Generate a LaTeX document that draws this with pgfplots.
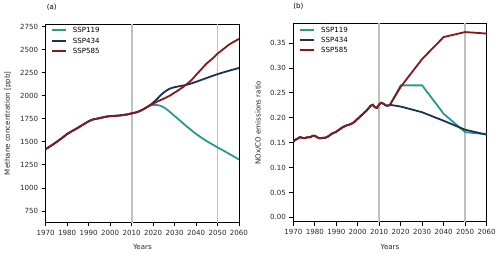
\documentclass[border=0pt]{standalone}
\usepackage{fontspec}
\setmainfont{DejaVu Sans}
\usepackage{pgfplots}
\pgfplotsset{compat=1.18}
\definecolor{cteal}{RGB}{38,156,137}
\definecolor{cnavy}{RGB}{29,49,82}
\definecolor{cred}{RGB}{139,21,28}
\definecolor{cgray}{RGB}{192,192,192}
\newcommand{\fs}{\fontsize{7.1}{8}\selectfont}
\begin{document}
\begin{tikzpicture}
\path (0,0) rectangle (500bp,251bp);
\pgfplotsset{every axis/.append style={
  scale only axis, width=193.3bp, height=198.3bp,
  xmin=1970, xmax=2060, xtick={1970,1980,...,2060},
  xtick pos=bottom, ytick pos=left,
  tick align=outside, major tick length=4bp,
  tick style={black, line width=0.8bp},
  axis line style={line width=0.8bp},
  /pgf/number format/assume math mode=true,
  /pgf/number format/1000 sep={},
  tick label style={font=\fs, text=black!85},
  label style={font=\fs, text=black!85},
  title style={font=\fs, text=black},
  xlabel={Years},
  xlabel style={at={(axis description cs:0.5,-0.1245)}, anchor=center},
  legend style={draw=none, fill=none, inner sep=0pt, outer sep=0pt,
     font=\fs, column sep=6bp, row sep=5.2bp,
     nodes={inner sep=0pt, text height=5.1bp, text depth=0bp}},
  legend cell align=left,
  legend image code/.code={\draw[#1] (0bp,0bp) -- (14bp,0bp);},
}}
% ---------------- (a) methane
\begin{axis}[at={(45.7bp,32.7bp)}, anchor=south west,
  ymin=625, ymax=2775, ytick={750,1000,...,2750},
  ylabel={Methane concentration [ppb]},
  ylabel style={at={(axis description cs:-0.195,0.5)}, anchor=center},
  title={(a)}, title style={at={(axis description cs:-0.012,1.045)}, anchor=base west},
  legend style={at={(axis description cs:0.0274,0.982)}, anchor=north west}]
\addplot[cgray, line width=1.8bp, forget plot] coordinates {(2010,600) (2010,2800)};
\addplot[cgray, line width=1.8bp, forget plot] coordinates {(2050,600) (2050,2800)};
\addplot[cteal, line width=1.8bp, smooth, tension=0.5] coordinates {
(1970,1420)(1973,1465)(1975,1497)(1978,1548)(1980,1585)(1983,1625)(1985,1652)(1988,1695)(1990,1722)(1992,1742)(1995,1756)(1998,1772)(2000,1778)(2003,1782)(2005,1787)(2008,1797)(2010,1808)(2012,1818)(2014,1835)(2016,1860)(2018,1888)
(2020,1900)(2022,1898)(2024,1885)(2026,1858)(2028,1820)(2030,1780)(2032,1740)(2035,1680)(2038,1622)(2040,1585)(2045,1507)(2050,1440)(2055,1375)(2060,1308)};
\addlegendentry{SSP119}
\addplot[cnavy, line width=1.8bp, smooth, tension=0.5] coordinates {
(1970,1420)(1973,1465)(1975,1497)(1978,1548)(1980,1585)(1983,1625)(1985,1652)(1988,1695)(1990,1722)(1992,1742)(1995,1756)(1998,1772)(2000,1778)(2003,1782)(2005,1787)(2008,1797)(2010,1808)(2012,1818)(2014,1835)(2016,1860)(2018,1888)
(2020,1925)(2022,1968)(2024,2015)(2026,2052)(2028,2078)(2030,2092)(2033,2106)(2036,2120)(2040,2150)(2045,2192)(2050,2233)(2055,2268)(2060,2300)};
\addlegendentry{SSP434}
\addplot[cred, line width=1.8bp, smooth, tension=0.5] coordinates {
(1970,1420)(1973,1465)(1975,1497)(1978,1548)(1980,1585)(1983,1625)(1985,1652)(1988,1695)(1990,1722)(1992,1742)(1995,1756)(1998,1772)(2000,1778)(2003,1782)(2005,1787)(2008,1797)(2010,1808)(2012,1818)(2014,1835)(2016,1860)(2018,1888)
(2020,1912)(2022,1937)(2025,1968)(2028,2003)(2030,2033)(2033,2078)(2035,2112)(2038,2172)(2040,2225)(2043,2300)(2045,2350)(2048,2410)(2050,2455)(2053,2510)(2055,2548)(2058,2590)(2060,2615)};
\addlegendentry{SSP585}
\end{axis}
% ---------------- (b) NOx/CO
\begin{axis}[at={(293.3bp,33.3bp)}, anchor=south west,
  ymin=-0.009, ymax=0.389, ytick={0,0.05,...,0.36},
  yticklabel style={/pgf/number format/.cd, fixed, fixed zerofill, precision=2},
  scaled y ticks=false,
  ylabel={NOx/CO emissions ratio},
  ylabel style={at={(axis description cs:-0.181,0.5)}, anchor=center},
  title={(b)}, title style={at={(axis description cs:-0.018,1.045)}, anchor=base west},
  legend style={at={(axis description cs:0.031,0.982)}, anchor=north west}]
\addplot[cgray, line width=1.8bp, forget plot] coordinates {(2010,-0.05) (2010,0.5)};
\addplot[cgray, line width=1.8bp, forget plot] coordinates {(2050,-0.05) (2050,0.5)};
\addplot[cteal, line width=1.8bp] coordinates {
(1970,0.152)(1971,0.156)(1972,0.158)(1973,0.161)(1974,0.160)(1975,0.159)(1976,0.160)(1977,0.161)(1978,0.161)(1979,0.164)(1980,0.164)(1981,0.161)(1982,0.159)(1983,0.159)(1984,0.160)(1985,0.160)(1986,0.162)(1987,0.165)(1988,0.168)(1989,0.170)(1990,0.172)(1991,0.175)(1992,0.178)(1993,0.181)(1994,0.183)(1995,0.185)(1996,0.186)(1997,0.188)(1998,0.190)(1999,0.194)(2000,0.198)(2001,0.202)(2002,0.206)(2003,0.210)(2004,0.214)(2005,0.219)(2006,0.224)(2007,0.226)(2008,0.221)(2009,0.220)(2010,0.227)(2011,0.230)(2012,0.228)(2013,0.225)(2014,0.224)(2015,0.226)
(2020,0.265)(2030,0.265)(2040,0.208)(2050,0.171)(2060,0.167)};
\addlegendentry{SSP119}
\addplot[cnavy, line width=1.8bp] coordinates {
(1970,0.152)(1971,0.156)(1972,0.158)(1973,0.161)(1974,0.160)(1975,0.159)(1976,0.160)(1977,0.161)(1978,0.161)(1979,0.164)(1980,0.164)(1981,0.161)(1982,0.159)(1983,0.159)(1984,0.160)(1985,0.160)(1986,0.162)(1987,0.165)(1988,0.168)(1989,0.170)(1990,0.172)(1991,0.175)(1992,0.178)(1993,0.181)(1994,0.183)(1995,0.185)(1996,0.186)(1997,0.188)(1998,0.190)(1999,0.194)(2000,0.198)(2001,0.202)(2002,0.206)(2003,0.210)(2004,0.214)(2005,0.219)(2006,0.224)(2007,0.226)(2008,0.221)(2009,0.220)(2010,0.227)(2011,0.230)(2012,0.228)(2013,0.225)(2014,0.224)(2015,0.226)
(2020,0.2225)(2030,0.211)(2040,0.194)(2050,0.176)(2060,0.166)};
\addlegendentry{SSP434}
\addplot[cred, line width=1.8bp] coordinates {
(1970,0.152)(1971,0.156)(1972,0.158)(1973,0.161)(1974,0.160)(1975,0.159)(1976,0.160)(1977,0.161)(1978,0.161)(1979,0.164)(1980,0.164)(1981,0.161)(1982,0.159)(1983,0.159)(1984,0.160)(1985,0.160)(1986,0.162)(1987,0.165)(1988,0.168)(1989,0.170)(1990,0.172)(1991,0.175)(1992,0.178)(1993,0.181)(1994,0.183)(1995,0.185)(1996,0.186)(1997,0.188)(1998,0.190)(1999,0.194)(2000,0.198)(2001,0.202)(2002,0.206)(2003,0.210)(2004,0.214)(2005,0.219)(2006,0.224)(2007,0.226)(2008,0.221)(2009,0.220)(2010,0.227)(2011,0.230)(2012,0.228)(2013,0.225)(2014,0.224)(2015,0.226)
(2020,0.262)(2030,0.318)(2040,0.362)(2050,0.372)(2060,0.369)};
\addlegendentry{SSP585}
\end{axis}
\end{tikzpicture}
\end{document}
